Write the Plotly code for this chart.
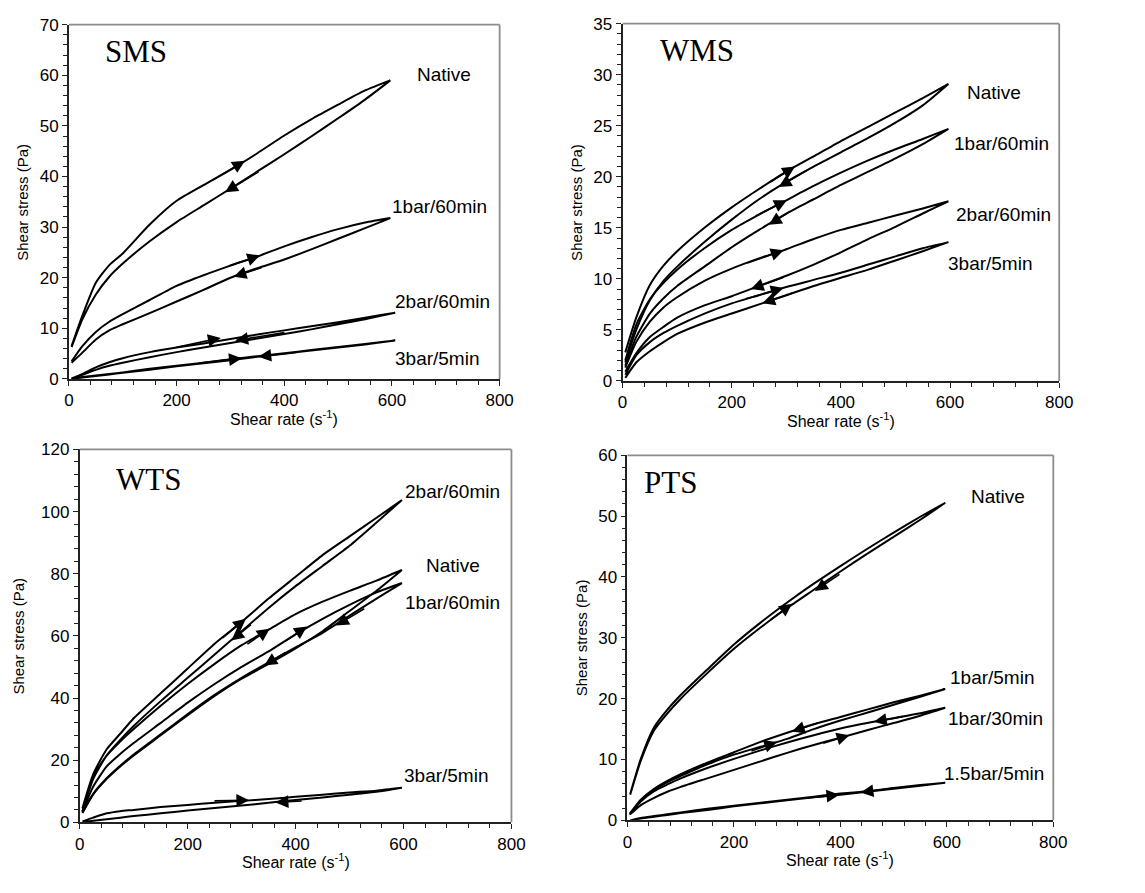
import plotly.graph_objects as go

# ---------------- data (shear rate grid, s^-1) ----------------
grid = [5, 25, 50, 75, 100, 150, 200, 250, 300, 350, 400, 450, 500, 550, 597]
grid_long = [5, 25, 50, 75, 100, 150, 200, 250, 300, 350, 400, 450, 500, 550, 606]

# SMS
sms_native_up = [6.5, 12.5, 19.0, 22.5, 24.8, 30.5, 35.2, 38.3, 41.3, 44.6, 48.1, 51.3, 54.2, 57.0, 59.0]
sms_native_down = [6.3, 11.8, 16.7, 20.2, 22.8, 27.2, 31.0, 34.3, 37.6, 41.0, 44.4, 47.9, 51.5, 55.2, 59.0]
sms_1bar60_up = [3.5, 6.5, 9.3, 11.3, 12.8, 15.6, 18.4, 20.5, 22.4, 24.2, 26.2, 28.0, 29.6, 30.9, 31.8]
sms_1bar60_down = [3.2, 5.2, 7.8, 9.6, 10.8, 13.0, 15.3, 17.6, 20.0, 21.9, 23.6, 25.6, 27.7, 29.8, 31.8]
sms_2bar60_up = [0.1, 1.0, 2.3, 3.3, 4.1, 5.3, 6.2, 7.0, 7.9, 8.8, 9.6, 10.4, 11.2, 12.1, 13.1]
sms_2bar60_down = [0.0, 0.8, 1.8, 2.6, 3.2, 4.3, 5.3, 6.2, 7.1, 8.0, 8.9, 9.8, 10.8, 11.8, 13.1]
sms_3bar5_up = [0.1, 0.4, 0.7, 1.0, 1.3, 2.0, 2.6, 3.2, 3.9, 4.5, 5.1, 5.7, 6.3, 6.9, 7.6]
sms_3bar5_down = [0.0, 0.3, 0.6, 0.9, 1.2, 1.8, 2.5, 3.1, 3.7, 4.4, 5.0, 5.6, 6.2, 6.8, 7.6]

# WMS
wms_native_up = [2.8, 6.2, 9.4, 11.3, 12.7, 15.0, 17.0, 18.8, 20.5, 22.0, 23.5, 24.9, 26.3, 27.7, 29.1]
wms_native_down = [1.8, 5.0, 7.9, 9.8, 11.2, 13.6, 15.8, 17.8, 19.5, 21.0, 22.4, 23.8, 25.3, 27.0, 29.1]
wms_1bar60_up = [2.0, 5.5, 8.0, 9.6, 10.9, 13.0, 14.8, 16.3, 17.7, 19.1, 20.4, 21.6, 22.7, 23.7, 24.7]
wms_1bar60_down = [1.5, 4.3, 6.6, 8.1, 9.3, 11.2, 13.1, 14.8, 16.4, 17.8, 19.2, 20.5, 21.8, 23.2, 24.7]
wms_2bar60_up = [1.3, 3.8, 5.8, 7.2, 8.2, 9.8, 11.0, 12.0, 12.9, 13.9, 14.8, 15.5, 16.2, 16.9, 17.6]
wms_2bar60_down = [0.9, 2.7, 4.3, 5.3, 6.2, 7.4, 8.3, 9.3, 10.3, 11.4, 12.6, 13.9, 15.1, 16.4, 17.6]
wms_3bar5_up = [0.6, 2.5, 3.8, 4.7, 5.4, 6.6, 7.6, 8.4, 9.2, 9.9, 10.6, 11.4, 12.2, 13.0, 13.6]
wms_3bar5_down = [0.3, 1.8, 2.9, 3.8, 4.6, 5.7, 6.6, 7.5, 8.4, 9.3, 10.1, 10.9, 11.8, 12.7, 13.6]

# WTS
wts_2bar60_up = [4.5, 15.5, 23.5, 28.5, 33.5, 41.5, 49.5, 57.5, 64.5, 72.0, 79.0, 86.0, 92.0, 98.0, 103.7]
wts_2bar60_down = [3.5, 14.5, 21.5, 26.5, 31.0, 39.0, 46.5, 54.0, 61.5, 69.0, 76.0, 82.5, 89.0, 96.5, 103.7]
wts_native_up = [3.5, 14.0, 21.5, 26.0, 30.0, 37.5, 44.5, 51.0, 57.0, 62.0, 67.0, 71.0, 74.5, 77.8, 81.2]
wts_native_down = [3.0, 9.0, 14.0, 18.0, 21.5, 28.0, 34.5, 40.7, 46.2, 51.0, 56.0, 61.5, 68.0, 74.5, 81.2]
wts_1bar60_up = [3.5, 11.5, 18.0, 22.0, 25.5, 32.0, 38.5, 44.5, 50.0, 55.0, 60.5, 65.5, 70.0, 74.0, 77.0]
wts_1bar60_down = [3.2, 9.2, 14.2, 18.2, 21.8, 28.3, 34.8, 41.0, 46.5, 51.5, 56.3, 61.0, 66.5, 72.0, 77.0]
wts_3bar5_up = [0.3, 1.5, 2.9, 3.6, 4.0, 4.9, 5.6, 6.3, 6.9, 7.5, 8.2, 8.9, 9.6, 10.2, 11.1]
wts_3bar5_down = [0.0, 0.5, 1.0, 1.5, 2.0, 2.9, 3.8, 4.6, 5.4, 6.3, 7.2, 8.0, 8.9, 9.8, 11.1]

# PTS
pts_native_up = [4.3, 10.1, 15.3, 18.2, 20.6, 24.8, 28.9, 32.5, 35.8, 38.9, 41.8, 44.6, 47.3, 49.9, 52.2]
pts_native_down = [4.2, 9.8, 14.8, 17.6, 20.0, 24.2, 28.2, 31.7, 34.9, 37.9, 40.9, 43.8, 46.6, 49.4, 52.2]
pts_1bar5_up = [1.2, 3.3, 5.0, 6.3, 7.3, 9.2, 10.8, 12.1, 13.4, 15.0, 16.4, 17.7, 19.0, 20.3, 21.6]
pts_1bar5_down = [1.2, 3.4, 5.2, 6.5, 7.6, 9.5, 11.2, 12.9, 14.4, 15.8, 17.0, 18.2, 19.4, 20.5, 21.6]
pts_1bar30_up = [1.0, 2.5, 3.7, 4.7, 5.5, 6.9, 8.3, 9.7, 11.1, 12.4, 13.6, 14.8, 16.0, 17.2, 18.5]
pts_1bar30_down = [1.0, 3.1, 4.8, 5.9, 6.9, 8.6, 10.1, 11.5, 12.8, 14.0, 15.1, 16.0, 16.8, 17.6, 18.5]
pts_15bar5_up = [0.0, 0.3, 0.6, 0.9, 1.2, 1.7, 2.3, 2.8, 3.3, 3.8, 4.2, 4.7, 5.2, 5.7, 6.2]
pts_15bar5_down = [0.0, 0.4, 0.7, 1.0, 1.3, 1.9, 2.4, 2.9, 3.4, 3.9, 4.4, 4.8, 5.3, 5.8, 6.2]

# direction arrows: (tail shear rate, tail stress, head shear rate, head stress)
sms_arrows = [(264, 39.1, 327, 43.1), (355, 41.1, 290, 36.9), (294, 22.2, 355, 24.4),
              (361, 22.1, 306, 20.2), (197, 6.2, 282, 8.1), (403, 9.2, 309, 7.6),
              (239, 3.1, 321, 4.1), (427, 5.3, 352, 4.4)]
wms_arrows = [(268, 19.4, 316, 21.0), (340, 20.7, 286, 19.0), (241, 16.1, 301, 17.7),
              (310, 16.7, 268, 15.3), (226, 11.5, 295, 12.8), (298, 10.2, 235, 9.0),
              (223, 8.0, 295, 9.1), (316, 8.7, 256, 7.6)]
wts_arrows = [(262, 59.0, 308, 65.5), (320, 64.0, 281, 58.5), (308, 57.0, 352, 62.3),
              (378, 58.0, 421, 63.0), (530, 69.0, 475, 63.3), (384, 55.0, 342, 50.5),
              (247, 6.9, 314, 7.1), (414, 6.9, 363, 6.4)]
pts_arrows = [(266, 32.8, 309, 35.6), (401, 40.6, 352, 37.7), (230, 11.3, 281, 12.9),
              (360, 16.1, 309, 14.6), (365, 12.6, 417, 14.0), (520, 17.1, 463, 16.2),
              (330, 3.6, 398, 4.2), (500, 5.3, 438, 4.6)]

# curve labels: (text, shear rate, stress)
sms_labels = [("Native", 697, 60.2), ("1bar/60min", 688, 34.0), ("2bar/60min", 694, 15.3), ("3bar/5min", 685, 4.1)]
wms_labels = [("Native", 681, 28.3), ("1bar/60min", 695, 23.3), ("2bar/60min", 698, 16.3), ("3bar/5min", 675, 11.5)]
wts_labels = [("2bar/60min", 691, 106.3), ("Native", 691, 82.7), ("1bar/60min", 691, 70.7), ("3bar/5min", 679, 15.0)]
pts_labels = [("Native", 697, 53.2), ("1bar/5min", 685, 23.5), ("1bar/30min", 691, 16.8), ("1.5bar/5min", 688, 7.7)]

panel_titles = ["SMS", "WMS", "WTS", "PTS"]
y_ranges = [70, 35, 120, 60]
y_dticks = [10, 5, 20, 10]

# ---------------- figure ----------------
W, H = 1145, 893
domains = [  # (x0px, x1px, ytop_px, ybottom_px)
    (65, 503, 16, 378),
    (628, 1072, 15, 380),
    (76, 515, 450, 831),
    (633, 1066, 456, 829),
]

panels = [
    (grid, [(sms_native_up, sms_native_down), (sms_1bar60_up, sms_1bar60_down)], sms_arrows, sms_labels),
    (grid, [(wms_native_up, wms_native_down), (wms_1bar60_up, wms_1bar60_down),
            (wms_2bar60_up, wms_2bar60_down), (wms_3bar5_up, wms_3bar5_down)], wms_arrows, wms_labels),
    (grid, [(wts_2bar60_up, wts_2bar60_down), (wts_native_up, wts_native_down),
            (wts_1bar60_up, wts_1bar60_down), (wts_3bar5_up, wts_3bar5_down)], wts_arrows, wts_labels),
    (grid, [(pts_native_up, pts_native_down), (pts_1bar5_up, pts_1bar5_down),
            (pts_1bar30_up, pts_1bar30_down), (pts_15bar5_up, pts_15bar5_down)], pts_arrows, pts_labels),
]

fig = go.Figure()
annotations = []
shapes = []
FONT = "Liberation Sans, Arial, sans-serif"
SERIF = "Liberation Serif, Times New Roman, serif"

def add_loop(xs, up, down, k):
    sfx = "" if k == 1 else str(k)
    fig.add_trace(go.Scatter(
        x=list(xs) + list(xs[::-1]), y=list(up) + list(down[::-1]),
        mode="lines", line=dict(color="black", width=2.0, shape="spline", smoothing=0.6),
        xaxis="x" + sfx, yaxis="y" + sfx, showlegend=False, hoverinfo="skip"))

for i, (xs, loops, arrows, labels) in enumerate(panels):
    k = i + 1
    for up, down in loops:
        add_loop(xs, up, down, k)
    if i == 0:
        add_loop(grid_long, sms_2bar60_up, sms_2bar60_down, 1)
        add_loop(grid_long, sms_3bar5_up, sms_3bar5_down, 1)

for i in range(4):
    k = i + 1
    sfx = "" if k == 1 else str(k)
    x0, x1, yt, yb = domains[i]
    xd = [x0 / W, x1 / W]
    yd = [1 - yb / H, 1 - yt / H]
    common = dict(showline=True, linecolor="#222222", linewidth=1.8, ticks="outside",
                  ticklen=5, tickwidth=1.2, tickcolor="#222222", showgrid=False, zeroline=False,
                  tickfont=dict(family=FONT, size=17, color="black"))
    fig.layout["xaxis" + sfx] = dict(domain=xd, range=[0, 800], dtick=200, anchor="y" + sfx,
                                     minor=dict(dtick=40, ticks="outside", ticklen=4, tickcolor="#222222"),
                                     **common)
    fig.layout["yaxis" + sfx] = dict(domain=yd, range=[0, y_ranges[i]], dtick=y_dticks[i], anchor="x" + sfx,
                                     minor=dict(dtick=y_dticks[i] / 5, ticks="outside", ticklen=4, tickcolor="#222222"),
                                     **common)
    xr = "x" + sfx
    yr = "y" + sfx
    # gray top and right frame
    shapes.append(dict(type="line", xref=xr + " domain", yref=yr + " domain", x0=0, x1=1, y0=1, y1=1,
                       line=dict(color="#8c8c8c", width=1.8)))
    shapes.append(dict(type="line", xref=xr + " domain", yref=yr + " domain", x0=1, x1=1, y0=0, y1=1,
                       line=dict(color="#8c8c8c", width=1.8)))
    # axis titles
    annotations.append(dict(xref=xr + " domain", yref=yr + " domain", x=0.5, y=0, yshift=-39,
                            text="Shear rate (s<sup>-1</sup>)", showarrow=False, yanchor="middle",
                            font=dict(family=FONT, size=16, color="black")))
    annotations.append(dict(xref=xr + " domain", yref=yr + " domain", x=0, y=0.5,
                            xshift=-46 if i != 2 else -61, textangle=-90,
                            text="Shear stress (Pa)", showarrow=False, xanchor="center",
                            font=dict(family=FONT, size=15, color="black")))
    # panel title
    annotations.append(dict(xref=xr + " domain", yref=yr + " domain", x=0.08 if i != 3 else 0.035,
                            y=0.925 if i != 2 else 0.92, text=panel_titles[i], showarrow=False,
                            xanchor="left", yanchor="middle",
                            font=dict(family=SERIF, size=31, color="black")))
    # curve labels
    for txt, lx, ly in panels[i][3]:
        annotations.append(dict(xref=xr, yref=yr, x=lx, y=ly, text=txt, showarrow=False,
                                xanchor="center", yanchor="middle",
                                font=dict(family=FONT, size=19, color="black")))
    # arrows
    for tx, ty, hx, hy in panels[i][2]:
        annotations.append(dict(xref=xr, yref=yr, axref=xr, ayref=yr, x=hx, y=hy, ax=tx, ay=ty,
                                text="", showarrow=True, arrowhead=2, arrowsize=1.6,
                                arrowwidth=1.6, arrowcolor="black", standoff=0))

fig.update_layout(width=W, height=H, autosize=False, margin=dict(l=0, r=0, t=0, b=0),
                  paper_bgcolor="white", plot_bgcolor="white",
                  annotations=annotations, shapes=shapes, showlegend=False)

fig.write_html("out.html", config={"displayModeBar": False},
               post_script="document.body.style.margin='0';document.body.style.padding='0';"
                           "document.documentElement.style.overflow='hidden';")
